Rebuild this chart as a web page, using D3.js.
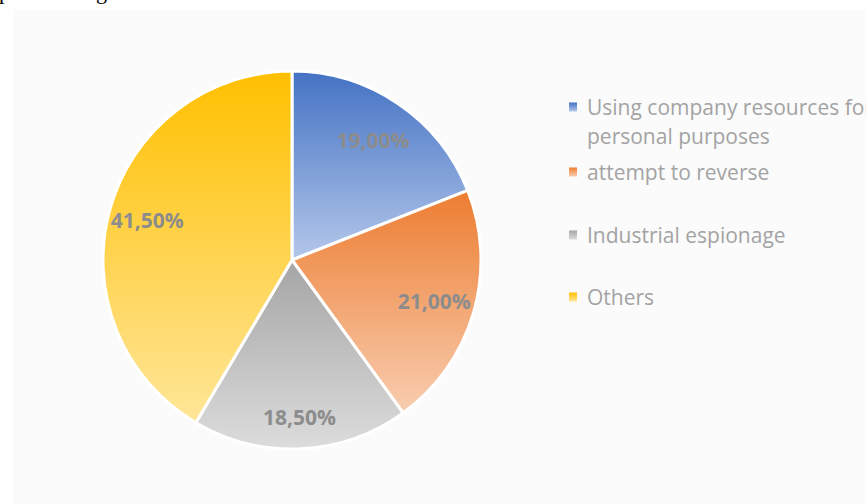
<!doctype html>
<html>
<head>
<style>
    body { margin: 0; background: #fff; }
    svg { display: block; }
</style>
<script src="https://d3js.org/d3.v7.min.js"></script>
</head>
<body>

    <svg id="my_dataviz" width="866" height="504"></svg>

    <script>

        // Data
        var categories = ["Using company resources for personal purposes", "attempt to reverse", "Industrial espionage", "Others"];
        var legendLines = [["Using company resources for", "personal purposes"], ["attempt to reverse"], ["Industrial espionage"], ["Others"]];
        var values = [19.0, 21.0, 18.5, 41.5];
        var labels = ["19,00%", "21,00%", "18,50%", "41,50%"];

        var topColors = ["#4472c4", "#ed7d31", "#a5a5a5", "#ffc000"];
        var bottomColors = ["#b4c7ea", "#f8cdb0", "#dcdcdc", "#ffe699"];

        // label distance from centre (Excel "best fit" places them a bit unevenly)
        var labelRadius = [144, 148, 158, 150];

        var svg = d3.select("svg"), width = +svg.attr("width"), height = +svg.attr("height");

        // chart area background
        svg.append("rect")
          .attr("x", 13).attr("y", 9)
          .attr("width", width - 13).attr("height", height - 9)
          .attr("fill", "#fbfbfb");

        // bits of document text above the chart
        svg.append("text").attr("x", -1).attr("y", -1)
          .attr("font-family", "Liberation Serif").attr("font-size", 22).attr("fill", "#000")
          .text("p");
        svg.append("text").attr("x", 96).attr("y", -1)
          .attr("font-family", "Liberation Serif").attr("font-size", 22).attr("fill", "#000")
          .text("g");

        // gradients
        var defs = svg.append("defs");
        topColors.forEach(function (c, i) {
          var g = defs.append("linearGradient")
            .attr("id", "grad" + i)
            .attr("x1", 0).attr("y1", 0).attr("x2", 0).attr("y2", 1);
          g.append("stop").attr("offset", "0%").attr("stop-color", c);
          g.append("stop").attr("offset", "100%").attr("stop-color", bottomColors[i]);
        });

        // Pie
        var cx = 292, cy = 260, radius = 189;
        var pie = d3.pie().sort(null).value(function (d) { return d; });
        var arc = d3.arc().innerRadius(0).outerRadius(radius);

        var g = svg.append("g").attr("transform", "translate(" + cx + "," + cy + ")");

        var arcs = pie(values);

        g.selectAll("path")
          .data(arcs)
          .enter()
          .append("path")
            .attr("d", arc)
            .attr("fill", function (d, i) { return "url(#grad" + i + ")"; })
            .attr("stroke", "#fff")
            .attr("stroke-width", 3)
            .attr("stroke-linejoin", "round");

        g.selectAll("text.lbl")
          .data(arcs)
          .enter()
          .append("text")
            .attr("class", "lbl")
            .attr("transform", function (d, i) {
              var r = labelRadius[i];
              return "translate(" + d3.arc().innerRadius(r).outerRadius(r).centroid(d) + ")";
            })
            .attr("text-anchor", "middle")
            .attr("dy", "0.36em")
            .attr("font-family", "'Open Sans', sans-serif")
            .attr("font-weight", "bold")
            .attr("font-size", 21)
            .attr("fill", "#8c8c8c")
            .text(function (d, i) { return labels[i]; });

        // Legend
        var legendY = [107, 172, 235, 297];
        var legend = svg.append("g");
        categories.forEach(function (c, i) {
          legend.append("rect")
            .attr("x", 569).attr("y", legendY[i] - 4.5)
            .attr("width", 8).attr("height", 9)
            .attr("fill", "url(#grad" + i + ")");
          var t = legend.append("text")
            .attr("y", legendY[i])
            .attr("font-family", "'Open Sans', sans-serif")
            .attr("font-size", 21)
            .attr("fill", "#a3a3a3");
          legendLines[i].forEach(function (line, j) {
            t.append("tspan").attr("x", 587).attr("dy", j === 0 ? "0.36em" : 29).text(line);
          });
        });

    </script>

</body>
</html>
